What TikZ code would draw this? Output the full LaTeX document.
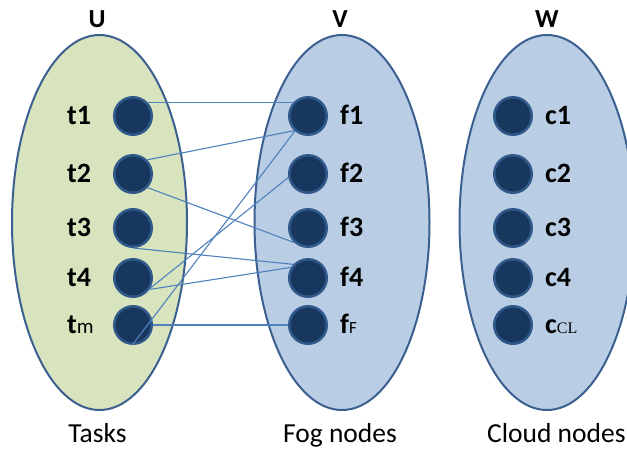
\documentclass[tikz,border=0pt]{standalone}
\usepackage{fontspec}
\setmainfont{Carlito}
\newfontfamily\clfont{Liberation Serif}
\usetikzlibrary{shapes.geometric}
\definecolor{ufill}{HTML}{D7E4BD}
\definecolor{vfill}{HTML}{B9CDE5}
\definecolor{rim}{HTML}{3B6090}
\definecolor{dot}{HTML}{17375E}
\definecolor{dotrim}{HTML}{30598A}
\definecolor{edgec}{HTML}{4F81BD}
\begin{document}
\begin{tikzpicture}[x=1pt,y=-1pt,
  setshape/.style={ellipse,draw=rim,line width=2pt,minimum width=175pt,minimum height=375pt,inner sep=0pt},
  vert/.style={circle,fill=dot,draw=dotrim,line width=2.5pt,minimum size=37.5pt,inner sep=0pt},
  lab/.style={anchor=base west,inner sep=0pt,font=\fontsize{28}{30}\selectfont\bfseries},
  settitle/.style={anchor=base,inner sep=0pt,font=\fontsize{26}{30}\selectfont\bfseries},
  setcap/.style={anchor=base,inner sep=0pt,font=\fontsize{27.5}{30}\selectfont},
  link/.style={draw=edgec,line width=1.1pt}]
\useasboundingbox (0,0) rectangle (627,451);
% sets
\node[setshape,fill=ufill] (U) at (99.5,222.5) {};
\node[setshape,fill=vfill] (V) at (342,222.5) {};
\node[setshape,fill=vfill] (W) at (547,222.5) {};
% titles
\node[settitle] (Ut) at (97,27) {U};
\node[settitle] (Vt) at (340,27) {V};
\node[settitle] (Wt) at (547,27) {W};
% captions
\node[setcap] (Uc) at (97.5,442) {Tasks};
\node[setcap] (Vc) at (340,442) {Fog nodes};
\node[setcap,anchor=base west] (Wc) at (487,442) {Cloud nodes};
% vertices
\foreach \n/\y in {1/116,2/174,3/228,4/278,m/325}{
  \node[vert] (t\n) at (133,\y) {};
}
\foreach \n/\y in {1/116,2/174,3/228,4/278,F/325}{
  \node[vert] (f\n) at (308,\y) {};
}
\foreach \n/\y in {1/116,2/174,3/228,4/278,CL/325}{
  \node[vert] (c\n) at (513,\y) {};
}
% labels
\node[lab] (lt1) at (67,124) {t1};
\node[lab] (lt2) at (67,182) {t2};
\node[lab] (lt3) at (67,236) {t3};
\node[lab] (lt4) at (67,286) {t4};
\node[lab] (ltm) at (67,333) {t{\mdseries\fontsize{21}{24}\selectfont m}};
\node[lab] (lf1) at (340,124) {f1};
\node[lab] (lf2) at (340,182) {f2};
\node[lab] (lf3) at (340,236) {f3};
\node[lab] (lf4) at (340,286) {f4};
\node[lab] (lfF) at (340,333) {f{\mdseries\fontsize{17}{20}\selectfont F}};
\node[lab] (lc1) at (545,124) {c1};
\node[lab] (lc2) at (545,182) {c2};
\node[lab] (lc3) at (545,236) {c3};
\node[lab] (lc4) at (545,286) {c4};
\node[lab] (lcCL) at (545,333) {c{\clfont\mdseries\fontsize{16}{20}\selectfont CL}};
% links
\draw[link] (t1.44) -- (f1.136);
\draw[link] (t2.45) -- (f1.227);
\draw[link] (t2.-43) -- (f3.227);
\draw[link] (t3.270) -- (f4.137);
\draw[link] (t4.-35) -- (f4.148);
\draw[link] (t4.-31) -- (f2.190);
\draw[link] (tm.268) -- (f1.229);
\draw[link] (tm.east) -- (fF.west);
\end{tikzpicture}
\end{document}
